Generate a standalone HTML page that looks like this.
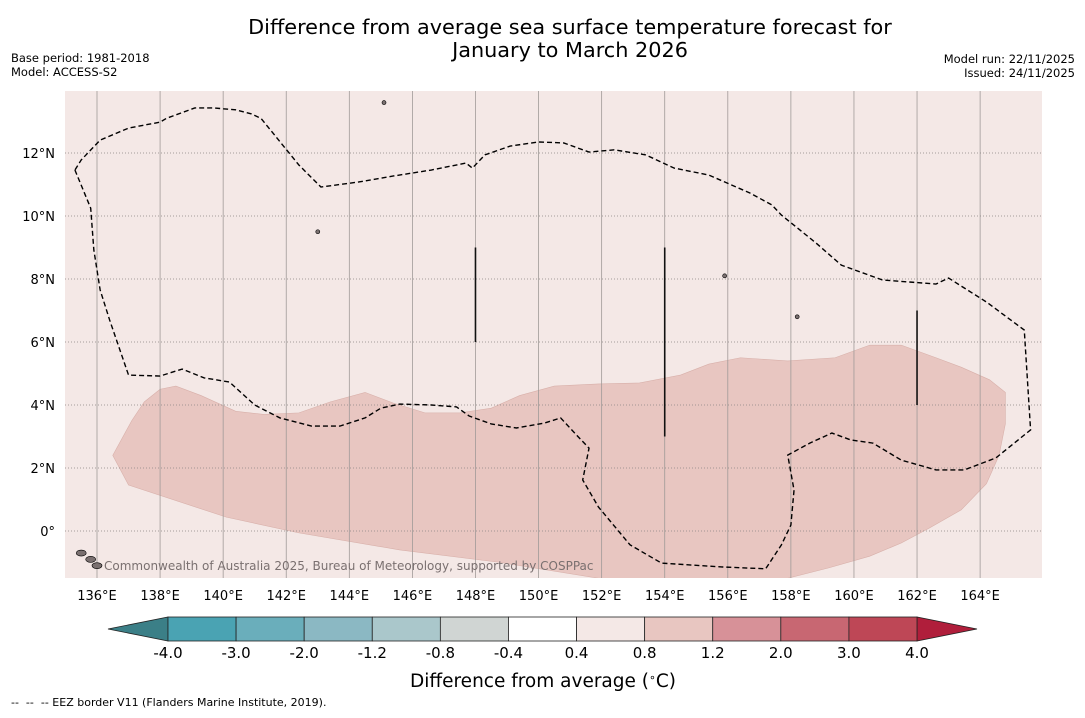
<!DOCTYPE html>
<html><head><meta charset="utf-8">
<style>
body{margin:0;background:#fff;font-family:"Liberation Sans","DejaVu Sans",sans-serif;}
svg text{font-family:"DejaVu Sans","Liberation Sans",sans-serif;}
</style></head>
<body>
<svg id="chart" width="1085" height="713" xmlns="http://www.w3.org/2000/svg">
<text x="570" y="34" font-size="20.8" text-anchor="middle">Difference from average sea surface temperature forecast for</text>
<text x="570" y="57" font-size="20.8" text-anchor="middle">January to March 2026</text>
<text x="11" y="62" font-size="11.5">Base period: 1981-2018</text>
<text x="11" y="76" font-size="11.5">Model: ACCESS-S2</text>
<text x="1075" y="63" font-size="11.5" text-anchor="end">Model run: 22/11/2025</text>
<text x="1075" y="77" font-size="11.5" text-anchor="end">Issued: 24/11/2025</text>
<defs><clipPath id="mapclip"><rect x="65" y="91" width="977" height="487"/></clipPath></defs>
<rect x="65" y="91" width="977" height="487" fill="#f4e8e6"/>
<g id="map" clip-path="url(#mapclip)"></g>
<g id="axes"></g>
<g id="cbar"></g>
<text x="543" y="687" font-size="18.5" text-anchor="middle">Difference from average (<tspan baseline-shift="super" font-size="11">∘</tspan>C)</text>
<text x="11" y="706" font-size="11" style="white-space:pre" xml:space="preserve">--  --  -- EEZ border V11 (Flanders Marine Institute, 2019).</text>
</svg>
<script>
const lonTicks=[136,138,140,142,144,146,148,150,152,154,156,158,160,162,164];
const latTicks=[0,2,4,6,8,10,12];
const anomalyLon=[136.5,137.1,137.5,138.0,138.5,139.3,140.4,141.3,142.4,143.4,144.5,145.4,146.4,147.5,148.5,149.4,150.5,151.9,153.2,154.5,155.4,156.4,157.9,159.4,160.5,161.5,162.6,163.4,164.3,164.8,164.8,164.6,164.2,163.4,162.4,161.5,160.5,159.2,157.9,151.9,148.8,145.6,142.4,140.1,137.0];
const anomalyLat=[2.4,3.5,4.1,4.5,4.6,4.3,3.8,3.7,3.75,4.1,4.4,4.06,3.75,3.75,3.9,4.3,4.6,4.67,4.7,4.95,5.3,5.5,5.4,5.5,5.9,5.9,5.5,5.2,4.8,4.4,3.4,2.4,1.5,0.67,0.1,-0.38,-0.8,-1.17,-1.5,-1.5,-1.0,-0.6,-0.06,0.44,1.46];
const eezLon=[135.3,135.8,135.9,136.1,136.4,137.0,138.0,138.7,139.4,140.2,141.0,141.8,142.8,143.7,144.5,145.0,145.6,146.6,147.4,147.8,148.5,149.3,150.2,150.7,151.2,151.6,151.4,151.9,152.9,153.9,155.8,157.2,157.7,158.0,158.1,157.9,158.6,159.3,159.9,160.6,161.5,162.6,163.5,164.5,165.6,165.4,164.2,163.0,162.6,160.9,159.6,158.8,157.7,157.4,156.7,155.4,154.3,153.4,152.4,151.6,150.8,150.0,149.1,148.3,147.9,147.7,146.6,145.4,144.3,143.1,142.4,141.2,140.9,140.4,139.7,139.1,138.2,138.0,137.0,136.1,135.5,135.3];
const eezLat=[11.46,10.25,8.92,7.65,6.7,4.95,4.92,5.14,4.86,4.73,4.0,3.59,3.33,3.33,3.59,3.9,4.03,4.0,3.94,3.65,3.4,3.27,3.43,3.59,3.05,2.63,1.62,0.76,-0.44,-1.02,-1.14,-1.2,-0.44,0.19,1.3,2.41,2.79,3.11,2.89,2.79,2.25,1.94,1.94,2.32,3.21,6.38,7.27,8.03,7.84,7.97,8.44,9.14,10.03,10.35,10.73,11.3,11.52,11.94,12.1,12.03,12.32,12.35,12.22,11.94,11.52,11.68,11.46,11.27,11.08,10.92,11.62,13.1,13.24,13.37,13.43,13.43,13.1,12.98,12.79,12.41,11.78,11.46];
const segLon=[148,154,162];
const segLat0=[9,9,7];
const segLat1=[6,3,4];
const islandLon=[135.5,135.8,136.0];
const islandLat=[-0.7,-0.9,-1.1];
const cbLabels=["-4.0","-3.0","-2.0","-1.2","-0.8","-0.4","0.4","0.8","1.2","2.0","3.0","4.0"];
const cbColors=["#4aa3b3","#6aaebb","#8bb8c3","#aac7cb","#d0d5d3","#ffffff","#f4e8e6","#e8c6c1","#d79198","#c86772","#be4756"];
const cbLow="#3b7f87", cbHigh="#b01e3b";

const NS="http://www.w3.org/2000/svg";
const X=lon=>97+(lon-136)*31.54;
const Y=lat=>531-lat*31.5;
function mk(tag,attrs,parent){const e=document.createElementNS(NS,tag);for(const k in attrs)e.setAttribute(k,attrs[k]);parent.appendChild(e);return e;}
const map=document.getElementById('map'),axes=document.getElementById('axes'),cbar=document.getElementById('cbar');

let pts=anomalyLon.map((l,i)=>X(l)+','+Y(anomalyLat[i])).join(' ');
const poly=mk('polygon',{points:pts,fill:'#e8c6c1',stroke:'#d8b0aa','stroke-width':0.6},map);



lonTicks.forEach(l=>{
 const g=mk('line',{x1:X(l),x2:X(l),y1:91,y2:578,stroke:'#a09a98','stroke-width':0.8},map);
 
 
 const t=mk('text',{x:X(l),y:600,'font-size':13,'text-anchor':'middle'},axes);
 t.textContent=l+'°E';
 
 
});
latTicks.forEach(l=>{
 const g=mk('line',{x1:65,x2:1042,y1:Y(l),y2:Y(l),stroke:'#8a8482','stroke-width':0.8,'stroke-dasharray':'1,2'},map);
 
 
 const t=mk('text',{x:55,y:Y(l)+5,'font-size':13,'text-anchor':'end'},axes);
 t.textContent=(l===0?'0°':l+'°N');
 
 
});

pts=eezLon.map((l,i)=>X(l)+','+Y(eezLat[i])).join(' ');
const eez=mk('polyline',{points:pts,fill:'none',stroke:'#000','stroke-width':1.4,'stroke-dasharray':'5,3'},map);



segLon.forEach((l,i)=>{
 const s=mk('line',{x1:X(l),x2:X(l),y1:Y(segLat0[i]),y2:Y(segLat1[i]),stroke:'#111','stroke-width':1.6},map);
 
 
});
islandLon.forEach((l,i)=>{
 const e=mk('ellipse',{cx:X(l),cy:Y(islandLat[i]),rx:5,ry:3,fill:'#7a7070',stroke:'#000','stroke-width':0.6},map);
 
 
});
[[145.1,13.6],[158.2,6.8],[143.0,9.5],[155.9,8.1]].forEach(p=>{
 const e=mk('ellipse',{cx:X(p[0]),cy:Y(p[1]),rx:2,ry:2,fill:'#7a7070',stroke:'#000','stroke-width':0.6},map);
 
 
});
const cr=mk('text',{x:104,y:570,'font-size':12,fill:'#7a7070'},map);
cr.textContent='Commonwealth of Australia 2025, Bureau of Meteorology, supported by COSPPac';



const cx0=168,cx1=917,cy0=617,cy1=641,w=(cx1-cx0)/cbColors.length;
const lt=mk('polygon',{points:`108,${(cy0+cy1)/2} ${cx0},${cy0} ${cx0},${cy1}`,fill:cbLow,stroke:'#222','stroke-width':0.8},cbar);


const rt=mk('polygon',{points:`977,${(cy0+cy1)/2} ${cx1},${cy0} ${cx1},${cy1}`,fill:cbHigh,stroke:'#222','stroke-width':0.8},cbar);


cbColors.forEach((c,i)=>{
 const r=mk('rect',{x:cx0+i*w,y:cy0,width:w,height:cy1-cy0,fill:c,stroke:'#222','stroke-width':0.8},cbar);
 
 
});
cbLabels.forEach((s,i)=>{
 const t=mk('text',{x:cx0+i*w,y:658,'font-size':15,'text-anchor':'middle'},cbar);
 t.textContent=s;
 
 
});
</script>
</body></html>
